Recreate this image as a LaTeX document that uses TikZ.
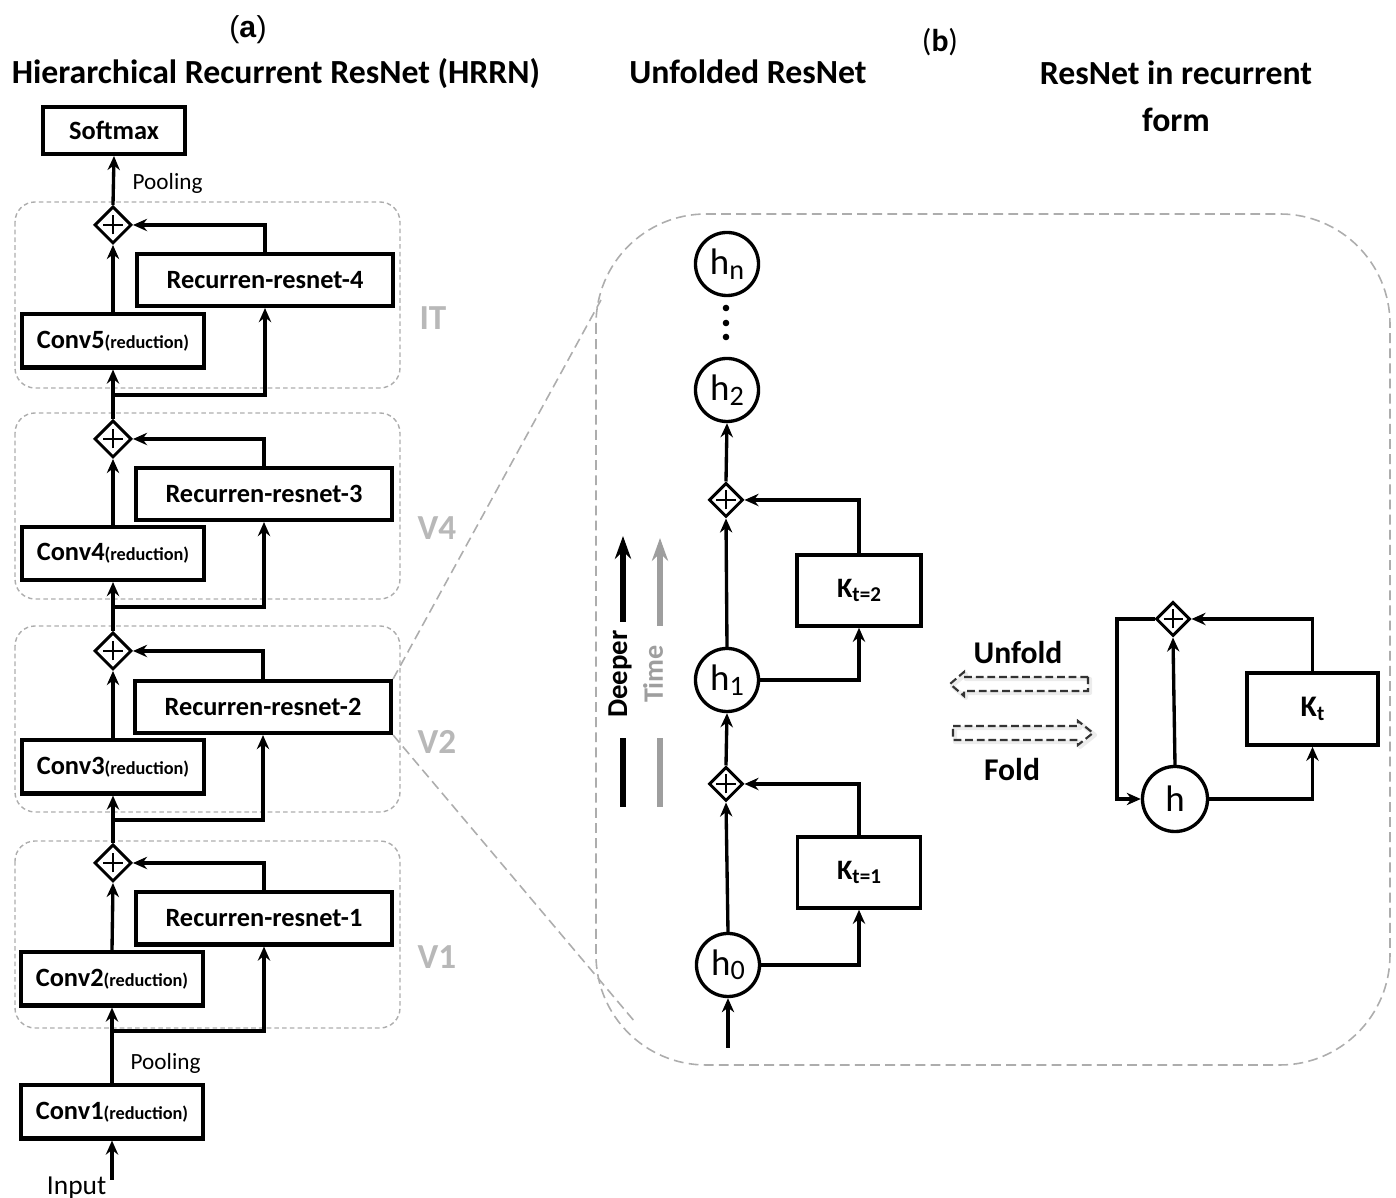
\documentclass[tikz,border=0pt]{standalone}
\usepackage{fontspec}
\setmainfont{Carlito}
\newfontfamily\arialfont{Liberation Sans}
\usetikzlibrary{arrows.meta,shapes.geometric,calc}
\definecolor{regiongray}{gray}{0.68}
\definecolor{labelgray}{gray}{0.72}
\definecolor{timegray}{gray}{0.62}
\begin{document}
\begin{tikzpicture}[x=0.01cm,y=-0.01cm,
  arr/.style={-{Stealth[length=4pt,width=3.5pt]}, line width=0.95pt},
  box/.style={draw, line width=1.15pt, inner sep=0pt, font=\fontsize{7.5pt}{9pt}\selectfont\bfseries},
  rrbox/.style={box, minimum width=2.56cm, minimum height=0.52cm},
  convbox/.style={box, minimum width=1.82cm, minimum height=0.53cm},
  plusnode/.style={diamond, draw, line width=0.85pt, minimum width=#1, minimum height=#1, inner sep=0pt,
     path picture={\draw[line width=0.65pt]
       ([xshift=-0.095cm]path picture bounding box.center) -- ([xshift=0.095cm]path picture bounding box.center)
       ([yshift=-0.095cm]path picture bounding box.center) -- ([yshift=0.095cm]path picture bounding box.center);}},
  hnode/.style={circle, draw, line width=0.95pt, minimum size=0.63cm, inner sep=0pt, font=\fontsize{10.5pt}{12pt}\selectfont},
  kbox/.style={draw, line width=1pt, inner sep=0pt, font=\fontsize{8pt}{9pt}\selectfont\bfseries},
  region/.style={draw=regiongray, dash pattern=on 1.3pt off 0.9pt, line width=0.4pt, rounded corners=0.2cm},
  vlabel/.style={text=labelgray, font=\fontsize{10pt}{11pt}\selectfont\bfseries},
  header/.style={font=\fontsize{9.6pt}{11pt}\selectfont\bfseries},
  small/.style={font=\fontsize{6.6pt}{7.5pt}\selectfont},
  zoomline/.style={draw=regiongray, dash pattern=on 2.8pt off 1.5pt, line width=0.45pt},
  foldarrow/.style={draw=black!80, dash pattern=on 2.2pt off 1.1pt, line width=0.6pt},
  foldshadow/.style={draw=gray!15, line width=1.2pt, line join=round}
]
\newcommand{\red}{\fontsize{5.2pt}{6pt}\selectfont(reduction)}
\newcommand{\hsub}[1]{h\raisebox{-1.3pt}{\fontsize{8pt}{8pt}\selectfont #1}}
\newcommand{\ksub}[1]{K\raisebox{-1pt}{\fontsize{6pt}{6pt}\selectfont #1}}
\useasboundingbox (0,0) rectangle (1396,1198);

% ---------------- headers
\node (ta) at (248,30) {\arialfont\fontsize{8.6pt}{10pt}\selectfont(\textbf{a})};
\node[header, anchor=base] (tHRRN) at (276,84) {Hierarchical Recurrent ResNet (HRRN)};
\node[header, anchor=base] (tUnf) at (748,84) {Unfolded ResNet};
\node (tb) at (940,42) {\fontsize{9pt}{10pt}\selectfont(\textbf{b})};
\node[header, anchor=base] (tRec1) at (1176,85) {ResNet in recurrent};
\node[header, anchor=base] (tRec2) at (1176,132) {form};

% ---------------- panel (a): regions
\draw[region] (15,202) rectangle (400,388);
\draw[region] (15,413) rectangle (400,599);
\draw[region] (15,626) rectangle (400,812);
\draw[region] (15,841) rectangle (400,1028);
\node[vlabel] (lIT) at (433,318) {IT};
\node[vlabel] (lV4) at (437,528) {V4};
\node[vlabel] (lV2) at (437,742) {V2};
\node[vlabel] (lV1) at (437,957) {V1};

% ---------------- panel (a): nodes
\node[box, minimum width=1.41cm, minimum height=0.47cm] (soft) at (114,130.5) {Softmax};
\node[plusnode=0.37cm] (p4) at (113,225) {};
\node[rrbox] (rr4) at (265,280) {Recurren-resnet-4};
\node[convbox] (c5) at (113,341) {Conv5\red};
\node[plusnode=0.37cm] (p3) at (113,439) {};
\node[rrbox] (rr3) at (264,494) {Recurren-resnet-3};
\node[convbox] (c4) at (113,553.5) {Conv4\red};
\node[plusnode=0.37cm] (p2) at (113,651) {};
\node[rrbox] (rr2) at (263,707) {Recurren-resnet-2};
\node[convbox] (c3) at (113,767) {Conv3\red};
\node[plusnode=0.37cm] (p1) at (113,863) {};
\node[rrbox] (rr1) at (264,918.5) {Recurren-resnet-1};
\node[convbox] (c2) at (112,979) {Conv2\red};
\node[convbox] (c1) at (112,1112) {Conv1\red};
\node[anchor=base east, font=\fontsize{7.8pt}{9pt}\selectfont, inner sep=0pt] (tin) at (107,1195) {Input};
\coordinate (inp) at (112,1180);
\coordinate (b1) at (112,1031);
\coordinate (b2) at (113,820);
\coordinate (b3) at (113,607);
\coordinate (b4) at (113,395);
\node[small, anchor=west, inner sep=0pt] (pool1) at (130,1063) {Pooling};
\node[small, anchor=west, inner sep=0pt] (pool2) at (132,183) {Pooling};

% ---------------- panel (a): connectors
\draw[arr] (inp) -- (c1.south);
\draw[arr] (c1.north) -- (c2.south);
\draw[arr] (b1) -| (rr1.south);
\draw[arr] (c2.north) -- (p1.south);
\draw[arr] (rr1.north) |- (p1.east);
\draw[arr] (p1.north) -- (c3.south);
\draw[arr] (b2) -| (rr2.south);
\draw[arr] (c3.north) -- (p2.south);
\draw[arr] (rr2.north) |- (p2.east);
\draw[arr] (p2.north) -- (c4.south);
\draw[arr] (b3) -| (rr3.south);
\draw[arr] (c4.north) -- (p3.south);
\draw[arr] (rr3.north) |- (p3.east);
\draw[arr] (p3.north) -- (c5.south);
\draw[arr] (b4) -| (rr4.south);
\draw[arr] (c5.north) -- (p4.south);
\draw[arr] (rr4.north) |- (p4.east);
\draw[arr] (p4.north) -- (soft.south);

% ---------------- panel (b): big region and zoom lines
\draw[zoomline, rounded corners=1.1cm] (596,214) rectangle (1390,1065);
\coordinate (zt) at (601,300);
\coordinate (zb) at (635,1022);
\draw[zoomline] (rr2.north east) -- (zt);
\draw[zoomline] (rr2.south east) -- (zb);

% ---------------- unfolded ResNet
\node[hnode] (hn) at (727,264) {\hsub{n}};
\fill (726,308) circle (3.3) (726,323) circle (3.3) (726,337) circle (3.3);
\node[hnode] (h2) at (727,390) {\hsub{2}};
\node[plusnode=0.34cm] (q2) at (726,500) {};
\node[kbox, minimum width=1.24cm, minimum height=0.71cm] (k2) at (859,590.5) {\ksub{t=2}};
\node[hnode] (h1) at (727,680) {\hsub{1}};
\node[plusnode=0.34cm] (q1) at (726,784) {};
\node[kbox, minimum width=1.23cm, minimum height=0.71cm] (k1) at (859,872.5) {\ksub{t=1}};
\node[hnode] (h0) at (728,965) {\hsub{0}};
\coordinate (hin) at (728,1048);

\draw[arr] (hin) -- (h0.south);
\draw[arr] (h0.north) -- (q1.south);
\draw[arr] (h0.east) -| (k1.south);
\draw[arr] (k1.north) |- (q1.east);
\draw[arr] (q1.north) -- (h1.south);
\draw[arr] (h1.north) -- (q2.south);
\draw[arr] (h1.east) -| (k2.south);
\draw[arr] (k2.north) |- (q2.east);
\draw[arr] (q2.north) -- (h2.south);

% Deeper / Time
\coordinate (dA) at (623,807); \coordinate (dB) at (623,738);
\coordinate (dC) at (623,622); \coordinate (dD) at (623,536);
\draw[line width=1.8pt] (dA) -- (dB);
\draw[line width=1.8pt, -{Stealth[length=6.5pt,width=4.6pt]}] (dC) -- (dD);
\node[rotate=90, font=\fontsize{8.2pt}{9pt}\selectfont\bfseries] (tdeep) at (620,674) {Deeper};
\coordinate (tA) at (660,807); \coordinate (tB) at (660,738);
\coordinate (tC) at (660,626); \coordinate (tD) at (660,538);
\draw[timegray, line width=1.8pt] (tA) -- (tB);
\draw[timegray, line width=1.8pt, -{Stealth[length=6.5pt,width=4.6pt]}] (tC) -- (tD);
\node[rotate=90, text=timegray, font=\fontsize{8pt}{9pt}\selectfont\bfseries] (ttime) at (653,674) {Time};

% ---------------- Unfold / Fold
\node[font=\fontsize{9pt}{10pt}\selectfont\bfseries] (tunf) at (1018,653) {Unfold};
\node[font=\fontsize{9pt}{10pt}\selectfont\bfseries] (tfold) at (1012,770) {Fold};
\draw[foldshadow] (1090,679) -- (966,679) -- (966,674) -- (952,686) -- (966,698) -- (966,693) -- (1090,693) -- cycle;
\draw[foldarrow] (1088,677) -- (964,677) -- (964,672) -- (950,684) -- (964,696) -- (964,691) -- (1088,691) -- cycle;
\draw[foldshadow] (955,728) -- (1080,728) -- (1080,723) -- (1095,735) -- (1080,747) -- (1080,742) -- (955,742) -- cycle;
\draw[foldarrow] (953,726) -- (1078,726) -- (1078,721) -- (1093,733) -- (1078,745) -- (1078,740) -- (953,740) -- cycle;

% ---------------- ResNet in recurrent form
\node[plusnode=0.34cm] (qf) at (1173,619) {};
\node[hnode, minimum size=0.65cm] (hf) at (1175,799) {h};
\node[kbox, minimum width=1.31cm, minimum height=0.72cm, font=\fontsize{8.5pt}{9pt}\selectfont\bfseries] (kt) at (1312.5,709) {\ksub{t}};
\coordinate (loop) at (1117,619);
\draw[arr] (hf.north) -- (qf.south);
\draw[arr] (hf.east) -| (kt.south);
\draw[arr] (kt.north) |- (qf.east);
\draw[arr] (qf.west) -- (loop) |- (hf.west);
\end{tikzpicture}
\end{document}
